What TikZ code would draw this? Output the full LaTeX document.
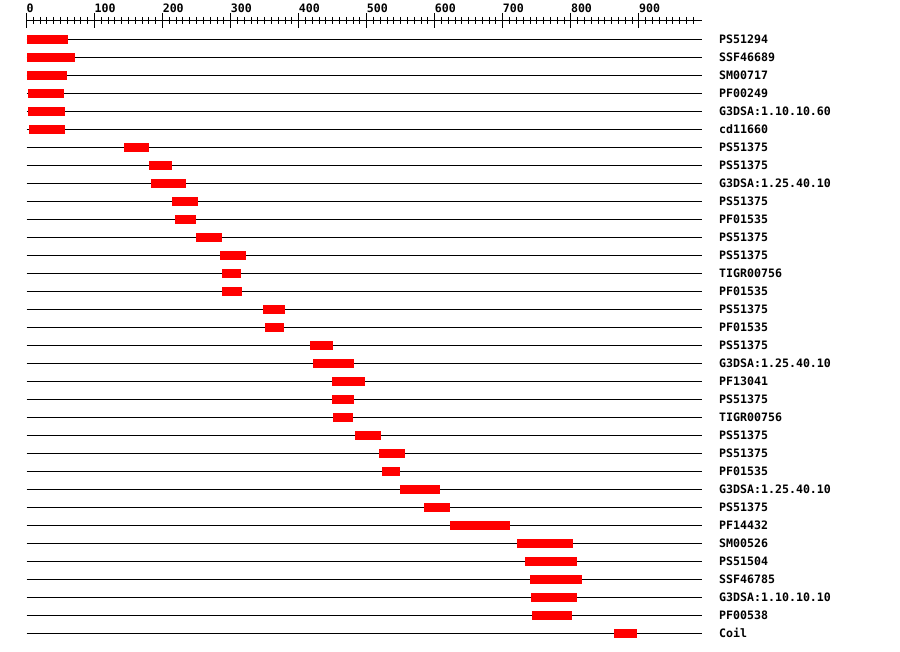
\documentclass[tikz,border=0pt]{standalone}
\usepackage{fontspec}
\setmonofont{DejaVu Sans Mono}

\tikzset{
  track/.style={line width=1pt, line cap=butt},
  hit/.style={fill=red, draw=none},
  featlabel/.style={anchor=base west, inner sep=0pt,
    font=\ttfamily\bfseries\fontsize{11.6}{12}\selectfont},
}

\begin{document}
\begin{tikzpicture}[x=1pt, y=-1pt]
    \useasboundingbox (0,0) rectangle (900,652);

    % Ruler (1 residue = 0.6804 px, residue 0 at 26.5 px)
    \draw[track] (26.5,20.5) -- (701.7,20.5);
    \foreach \t in {10,20,...,980} {
        \draw[track] ({26.5+0.6804*\t},17) -- ({26.5+0.6804*\t},24);
    }
    \foreach \t in {0,100,...,900} {
        \draw[track] ({26.5+0.6804*\t},13) -- ({26.5+0.6804*\t},28);
        \node[featlabel] (tick\t) at ({26.5+0.6804*\t},12.5) {\t};
    }

    % Feature tracks
    \foreach \name/\from/\to [count=\i] in {
        PS51294/1/61, SSF46689/1/72, SM00717/2/59, PF00249/3/55,
        G3DSA:1.10.10.60/3/56, cd11660/5/56, PS51375/145/180,
        PS51375/181/214, G3DSA:1.25.40.10/184/234, PS51375/215/252,
        PF01535/219/249, PS51375/250/287, PS51375/286/322,
        TIGR00756/289/315, PF01535/289/316, PS51375/349/380,
        PF01535/352/378, PS51375/418/450, G3DSA:1.25.40.10/422/482,
        PF13041/450/497, PS51375/450/481, TIGR00756/452/480,
        PS51375/484/521, PS51375/519/556, PF01535/524/549,
        G3DSA:1.25.40.10/550/607, PS51375/585/622, PF14432/624/710,
        SM00526/722/803, PS51504/734/809, SSF46785/741/816,
        G3DSA:1.10.10.10/743/809, PF00538/744/801, Coil/865/897} {
        \pgfmathsetmacro\y{39.5+18*(\i-1)}
        \draw[track] (26.5,\y) -- (701.7,\y);
        \fill[hit] ({26.5+0.6804*(\from-1)},\y-4.5) rectangle ({26.5+0.6804*\to},\y+4.5);
        \node[featlabel] (lbl\i) at (719,\y+4) {\name};
    }
\end{tikzpicture}
\end{document}
